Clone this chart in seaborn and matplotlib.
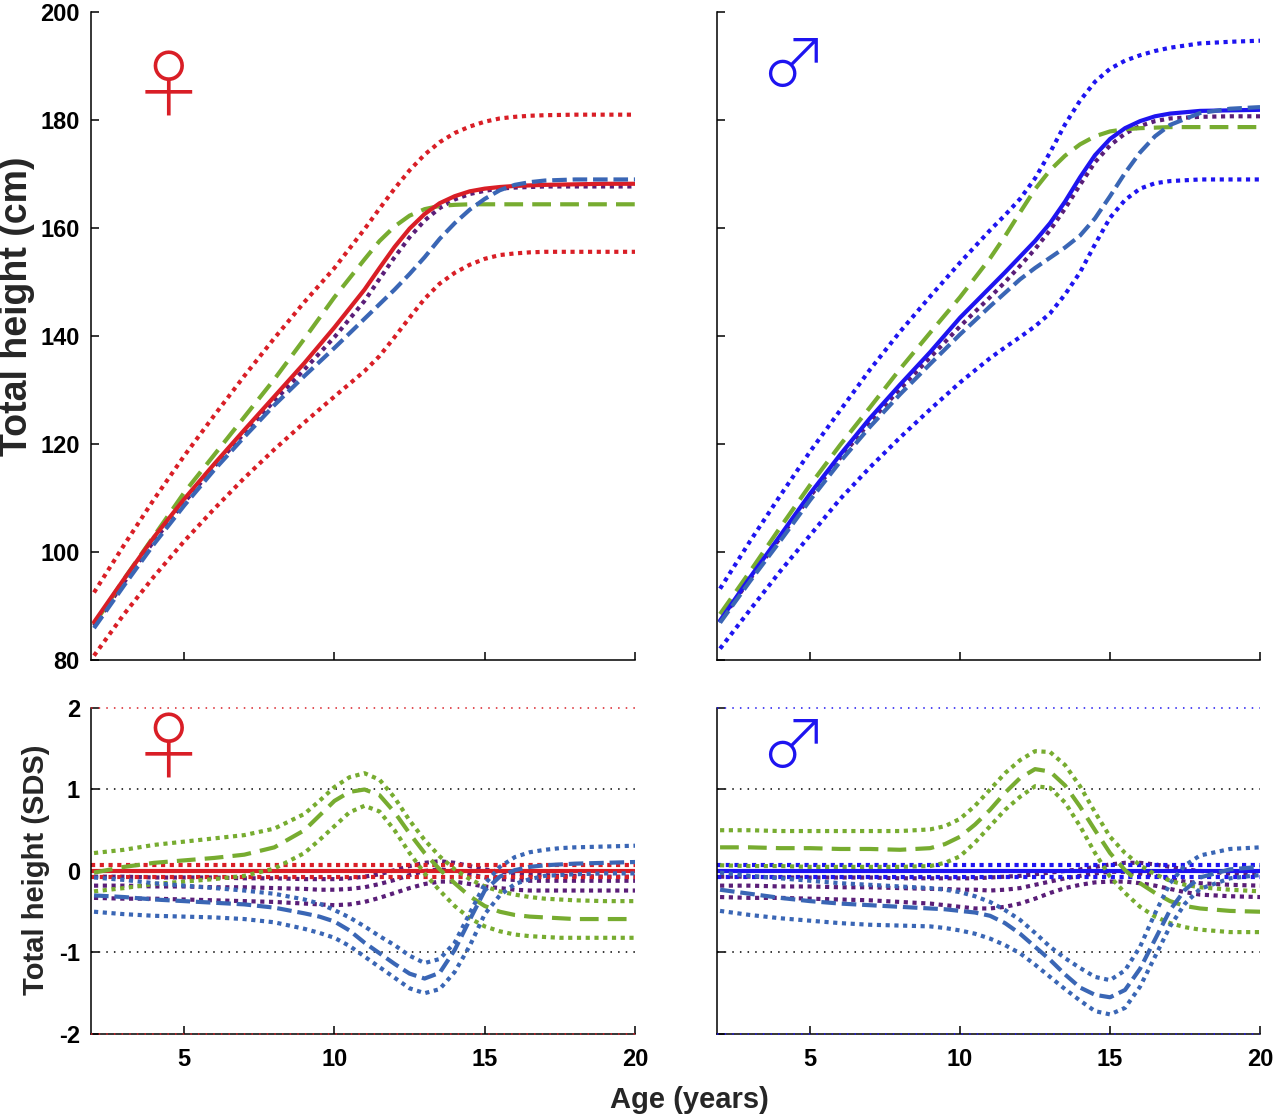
import matplotlib
matplotlib.use("Agg")
import matplotlib.pyplot as plt
import seaborn as sns
import numpy as np

# ---- data ----
age_cm = [2, 3, 4, 5, 6, 7, 8, 9, 10, 11, 11.5, 12, 12.5, 13, 13.5, 14, 14.5,
          15, 15.5, 16, 16.5, 17, 18, 19, 20]

# girls, total height (cm)
f_ref_mean = [87.0, 95.0, 102.8, 109.8, 116.3, 122.6, 128.8, 135.0, 141.6, 148.6, 152.6,
              156.5, 159.9, 162.6, 164.6, 165.9, 166.8, 167.3, 167.6, 167.8, 167.9,
              168.0, 168.1, 168.2, 168.2]
f_ref_hi = [92.5, 101.3, 109.8, 117.8, 125.3, 132.6, 139.6, 146.3, 152.6, 159.8, 163.6,
            167.3, 170.7, 173.6, 175.9, 177.6, 178.8, 179.7, 180.3, 180.6, 180.8,
            180.9, 181.0, 181.0, 181.0]
f_ref_lo = [80.8, 88.5, 95.5, 102.0, 108.0, 113.7, 119.0, 124.0, 128.8, 133.5, 136.3,
            139.8, 143.4, 146.9, 149.7, 151.7, 153.2, 154.3, 155.0, 155.3, 155.5,
            155.6, 155.6, 155.6, 155.6]
f_early = [86.6, 95.0, 103.0, 111.0, 118.0, 125.0, 132.0, 139.5, 147.2, 154.2, 157.6,
           160.3, 162.3, 163.5, 164.1, 164.3, 164.4, 164.4, 164.4, 164.4, 164.4,
           164.4, 164.4, 164.4, 164.4]
f_late = [85.9, 93.8, 101.5, 108.6, 115.2, 121.3, 127.2, 132.6, 137.8, 143.2, 145.9,
          148.6, 151.5, 154.6, 158.0, 160.9, 163.4, 165.4, 167.0, 168.0, 168.5,
          168.8, 169.0, 169.0, 169.0]
f_cohort = [86.3, 94.4, 102.1, 109.2, 115.8, 122.0, 128.0, 133.8, 139.8, 146.5, 150.6,
            154.6, 158.3, 161.4, 163.7, 165.3, 166.3, 166.9, 167.3, 167.5, 167.6,
            167.7, 167.7, 167.7, 167.7]

# boys, total height (cm)
m_ref_mean = [87.3, 95.3, 103.0, 110.8, 118.0, 124.8, 131.0, 137.0, 143.4, 149.0, 151.8,
              154.7, 157.6, 160.9, 164.9, 169.4, 173.5, 176.5, 178.5, 179.8, 180.7,
              181.2, 181.7, 181.8, 181.9]
m_ref_hi = [93.2, 102.0, 110.4, 118.6, 126.2, 133.8, 140.8, 147.3, 153.6, 159.6, 162.4,
            165.4, 169.2, 174.0, 179.2, 183.6, 187.1, 189.5, 191.0, 192.0, 192.8,
            193.4, 194.2, 194.5, 194.7]
m_ref_lo = [82.1, 89.3, 96.4, 103.1, 109.8, 115.7, 121.2, 126.4, 131.4, 135.9, 137.9,
            139.8, 141.8, 144.2, 147.7, 151.8, 157.0, 161.9, 165.2, 167.3, 168.3,
            168.7, 169.0, 169.0, 169.0]
m_early = [88.5, 96.4, 104.5, 112.4, 119.8, 126.8, 133.9, 140.6, 147.2, 154.4, 158.5,
           162.9, 167.2, 170.7, 173.4, 175.5, 177.0, 177.9, 178.3, 178.5, 178.6,
           178.7, 178.7, 178.7, 178.7]
m_late = [86.9, 94.6, 102.0, 109.6, 116.7, 123.2, 129.2, 134.8, 140.3, 145.5, 148.0,
          150.5, 152.6, 154.5, 156.4, 158.6, 161.8, 165.9, 170.2, 174.0, 177.0,
          179.1, 181.3, 182.1, 182.4]
m_cohort = [87.1, 95.0, 102.6, 110.3, 117.4, 124.1, 130.2, 136.0, 141.8, 147.2, 150.0,
            153.0, 156.1, 159.6, 163.6, 168.0, 172.2, 175.3, 177.5, 178.9, 179.8,
            180.3, 180.6, 180.7, 180.7]

age_sds = [2, 3, 4, 5, 6, 7, 8, 9, 9.5, 10, 10.5, 11, 11.5, 12, 12.5, 13, 13.5, 14,
           14.5, 15, 15.5, 16, 16.5, 17, 17.5, 18, 19, 20]

# girls, SDS
f_early_hi = [0.22, 0.26, 0.32, 0.36, 0.40, 0.44, 0.52, 0.70, 0.86, 1.03, 1.15, 1.20, 1.12,
              0.90, 0.62, 0.38, 0.18, 0.02, -0.10, -0.19, -0.25, -0.29, -0.32, -0.34,
              -0.35, -0.36, -0.37, -0.37]
f_early_sds = [-0.02, 0.05, 0.10, 0.13, 0.16, 0.20, 0.29, 0.50, 0.68, 0.86, 0.97, 1.00, 0.93,
               0.72, 0.46, 0.22, 0.02, -0.15, -0.31, -0.43, -0.50, -0.54, -0.56, -0.57,
               -0.58, -0.59, -0.59, -0.59]
f_early_lo = [-0.25, -0.21, -0.16, -0.13, -0.10, -0.06, 0.03, 0.22, 0.38, 0.55, 0.72, 0.80,
              0.73, 0.50, 0.22, -0.03, -0.24, -0.43, -0.58, -0.68, -0.74, -0.78, -0.80,
              -0.81, -0.82, -0.82, -0.82, -0.82]
f_late_hi = [-0.08, -0.11, -0.15, -0.18, -0.21, -0.24, -0.28, -0.35, -0.40, -0.48, -0.57,
             -0.68, -0.80, -0.91, -1.04, -1.13, -1.08, -0.88, -0.52, -0.16, 0.05, 0.17,
             0.23, 0.26, 0.28, 0.29, 0.30, 0.31]
f_late_sds = [-0.30, -0.32, -0.35, -0.37, -0.39, -0.41, -0.45, -0.52, -0.56, -0.62, -0.73,
              -0.88, -1.01, -1.14, -1.26, -1.32, -1.25, -0.97, -0.60, -0.24, -0.07, 0.01,
              0.05, 0.07, 0.08, 0.09, 0.10, 0.11]
f_late_lo = [-0.50, -0.53, -0.55, -0.56, -0.57, -0.59, -0.63, -0.71, -0.76, -0.82, -0.92,
             -1.05, -1.18, -1.31, -1.44, -1.50, -1.45, -1.24, -0.92, -0.53, -0.30, -0.16,
             -0.10, -0.06, -0.05, -0.04, -0.03, -0.03]
f_cohort_hi = [-0.07, -0.07, -0.08, -0.08, -0.08, -0.09, -0.09, -0.10, -0.10, -0.10, -0.09,
               -0.07, -0.04, 0.01, 0.06, 0.10, 0.12, 0.10, 0.06, 0.02, -0.01, -0.03,
               -0.04, -0.05, -0.06, -0.06, -0.07, -0.07]
f_cohort_sds = [-0.18, -0.18, -0.19, -0.19, -0.20, -0.20, -0.21, -0.22, -0.23, -0.23, -0.22,
                -0.20, -0.16, -0.11, -0.05, 0.00, 0.02, 0.00, -0.04, -0.08, -0.10, -0.11,
                -0.12, -0.12, -0.12, -0.12, -0.12, -0.12]
f_cohort_lo = [-0.33, -0.34, -0.34, -0.35, -0.36, -0.37, -0.38, -0.40, -0.41, -0.42, -0.41,
               -0.38, -0.33, -0.27, -0.21, -0.16, -0.13, -0.13, -0.16, -0.19, -0.21, -0.23,
               -0.24, -0.24, -0.24, -0.24, -0.24, -0.24]

# boys, SDS
m_early_hi = [0.50, 0.50, 0.49, 0.49, 0.49, 0.49, 0.49, 0.51, 0.55, 0.64, 0.80, 1.00, 1.20,
              1.36, 1.47, 1.46, 1.30, 1.04, 0.72, 0.42, 0.22, 0.07, -0.04, -0.12, -0.17,
              -0.20, -0.23, -0.25]
m_early_sds = [0.29, 0.29, 0.28, 0.28, 0.27, 0.27, 0.26, 0.28, 0.33, 0.42, 0.57, 0.75, 0.96,
               1.14, 1.25, 1.22, 1.05, 0.79, 0.50, 0.22, 0.01, -0.15, -0.27, -0.37, -0.43,
               -0.46, -0.49, -0.50]
m_early_lo = [0.07, 0.06, 0.06, 0.05, 0.05, 0.05, 0.05, 0.06, 0.10, 0.18, 0.35, 0.55, 0.75,
              0.91, 1.04, 1.02, 0.84, 0.55, 0.22, -0.07, -0.27, -0.44, -0.56, -0.64, -0.69,
              -0.72, -0.75, -0.75]
m_late_hi = [-0.02, -0.06, -0.09, -0.12, -0.15, -0.17, -0.19, -0.21, -0.23, -0.26, -0.31,
             -0.38, -0.48, -0.60, -0.76, -0.93, -1.07, -1.19, -1.30, -1.34, -1.22, -0.93,
             -0.52, -0.15, 0.07, 0.19, 0.27, 0.29]
m_late_sds = [-0.23, -0.28, -0.33, -0.37, -0.40, -0.42, -0.44, -0.46, -0.47, -0.49, -0.51,
              -0.55, -0.64, -0.77, -0.93, -1.09, -1.27, -1.43, -1.52, -1.55, -1.46, -1.20,
              -0.84, -0.48, -0.23, -0.08, 0.02, 0.05]
m_late_lo = [-0.49, -0.54, -0.58, -0.61, -0.64, -0.66, -0.67, -0.68, -0.70, -0.73, -0.77,
             -0.83, -0.91, -1.01, -1.15, -1.30, -1.45, -1.59, -1.72, -1.76, -1.68, -1.42,
             -1.05, -0.68, -0.40, -0.22, -0.09, -0.05]
m_cohort_hi = [-0.07, -0.07, -0.08, -0.08, -0.08, -0.08, -0.09, -0.09, -0.09, -0.09, -0.09,
               -0.08, -0.07, -0.06, -0.04, -0.02, 0.00, 0.02, 0.05, 0.08, 0.10, 0.10,
               0.08, 0.05, 0.02, 0.00, -0.03, -0.05]
m_cohort_sds = [-0.18, -0.18, -0.19, -0.19, -0.20, -0.20, -0.21, -0.22, -0.22, -0.23, -0.23,
                -0.24, -0.23, -0.21, -0.17, -0.13, -0.09, -0.06, -0.03, -0.01, -0.01, -0.03,
                -0.06, -0.10, -0.13, -0.15, -0.17, -0.18]
m_cohort_lo = [-0.32, -0.33, -0.33, -0.34, -0.35, -0.36, -0.38, -0.40, -0.42, -0.44, -0.46,
               -0.46, -0.44, -0.40, -0.34, -0.27, -0.21, -0.17, -0.14, -0.13, -0.13, -0.15,
               -0.18, -0.22, -0.26, -0.29, -0.31, -0.32]

ref_band = [-0.07, 0.07]
sd_lines = [-1, 1]
limit_lines = [-2, 2]

# ---- style ----
sns.set_style("ticks")
plt.rcParams['font.family'] = ['Liberation Sans', 'DejaVu Sans']
plt.rcParams['font.weight'] = 'bold'

RED = '#d91e26'
BLUE = '#1e14f0'
GREEN = '#77ac30'
STEEL = '#3a66b5'
PURPLE = '#5a1e78'
LW = 3
DOT = (0, (1, 1.1))
DASH_G = (0, (4.5, 2.2))
DASH_B = (0, (3.5, 1.4))

fig = plt.figure(figsize=(12.8, 11.19), dpi=100)
ax_f = fig.add_axes([0.0711, 0.4102, 0.425, 0.579])
ax_m = fig.add_axes([0.5602, 0.4102, 0.4242, 0.579])
ax_fs = fig.add_axes([0.0711, 0.0760, 0.425, 0.2913])
ax_ms = fig.add_axes([0.5602, 0.0760, 0.4242, 0.2913])


def line(ax, x, y, color, ls='-', lw=LW, z=2):
    sns.lineplot(x=x, y=y, ax=ax, color=color, linestyle=ls, linewidth=lw,
                 estimator=None, sort=False, zorder=z)


def height_panel(ax, col, mean, hi, lo, early, late, cohort):
    line(ax, age_cm, hi, col, DOT)
    line(ax, age_cm, lo, col, DOT)
    line(ax, age_cm, cohort, PURPLE, DOT)
    line(ax, age_cm, early, GREEN, DASH_G)
    line(ax, age_cm, mean, col, '-', z=3)
    line(ax, age_cm, late, STEEL, DASH_B, z=3)
    ax.set_ylim(80, 200)
    ax.set_yticks(np.arange(80, 201, 20))


def sds_panel(ax, col, e_hi, e_mid, e_lo, l_hi, l_mid, l_lo, c_hi, c_mid, c_lo):
    for v in sd_lines:
        ax.axhline(v, color='black', linestyle=(0, (1, 4)), linewidth=1.1, zorder=1)
    for v in limit_lines:
        ax.axhline(v, color=col, linestyle=(0, (1, 4)), linewidth=1.1, zorder=3,
                   clip_on=False)
    for s in (c_hi, c_mid, c_lo):
        line(ax, age_sds, s, PURPLE, DOT)
    for v in ref_band:
        ax.axhline(v, color=col, linestyle=DOT, linewidth=LW, zorder=2)
    ax.axhline(0, color=col, linewidth=LW, zorder=2)
    line(ax, age_sds, e_hi, GREEN, DOT)
    line(ax, age_sds, e_lo, GREEN, DOT)
    line(ax, age_sds, e_mid, GREEN, DASH_G)
    line(ax, age_sds, l_hi, STEEL, DOT)
    line(ax, age_sds, l_lo, STEEL, DOT)
    line(ax, age_sds, l_mid, STEEL, DASH_B)
    ax.set_ylim(-2, 2)
    ax.set_yticks([-2, -1, 0, 1, 2])
    ax.set_yticklabels(['-2', '-1', '0', '1', '2'])


height_panel(ax_f, RED, f_ref_mean, f_ref_hi, f_ref_lo, f_early, f_late, f_cohort)
height_panel(ax_m, BLUE, m_ref_mean, m_ref_hi, m_ref_lo, m_early, m_late, m_cohort)
sds_panel(ax_fs, RED, f_early_hi, f_early_sds, f_early_lo, f_late_hi, f_late_sds,
          f_late_lo, f_cohort_hi, f_cohort_sds, f_cohort_lo)
sds_panel(ax_ms, BLUE, m_early_hi, m_early_sds, m_early_lo, m_late_hi, m_late_sds,
          m_late_lo, m_cohort_hi, m_cohort_sds, m_cohort_lo)

for ax in (ax_f, ax_m, ax_fs, ax_ms):
    ax.set_xlim(1.9, 20)
    ax.set_xticks([5, 10, 15, 20])
    ax.set_xlabel('')
    ax.set_ylabel('')
    sns.despine(ax=ax)
    for sp in ('left', 'bottom'):
        ax.spines[sp].set_linewidth(1.1)
        ax.spines[sp].set_color('black')
    ax.tick_params(direction='in', length=6, width=1.1, labelsize=17, colors='black',
                   pad=8)

ax_f.tick_params(labelbottom=False)
ax_m.tick_params(labelbottom=False, labelleft=False)
ax_ms.tick_params(labelleft=False)
for ax in (ax_fs, ax_ms):
    ax.tick_params(axis='x', pad=10)

# sex symbols
sym = dict(ha='center', va='center', fontweight='light',
           family=['Noto Sans CJK JP', 'DejaVu Sans'])
ax_f.text(0.142, 0.878, '\u2640', color=RED, fontsize=53, transform=ax_f.transAxes, **sym)
ax_fs.text(0.142, 0.860, '\u2640', color=RED, fontsize=53, transform=ax_fs.transAxes, **sym)
ax_m.text(0.14, 0.913, '\u2642', color=BLUE, fontsize=48, transform=ax_m.transAxes, **sym)
ax_ms.text(0.14, 0.873, '\u2642', color=BLUE, fontsize=48, transform=ax_ms.transAxes, **sym)

fig.text(0.013, 0.726, 'Total height (cm)', rotation=90, ha='center', va='center',
         fontsize=27, fontweight='bold')
fig.text(0.028, 0.2225, 'Total height (SDS)', rotation=90, ha='center', va='center',
         fontsize=21, fontweight='bold')
fig.text(0.539, 0.017, 'Age (years)', ha='center', va='center', fontsize=21,
         fontweight='bold')

fig.savefig('out.png', dpi=100)
